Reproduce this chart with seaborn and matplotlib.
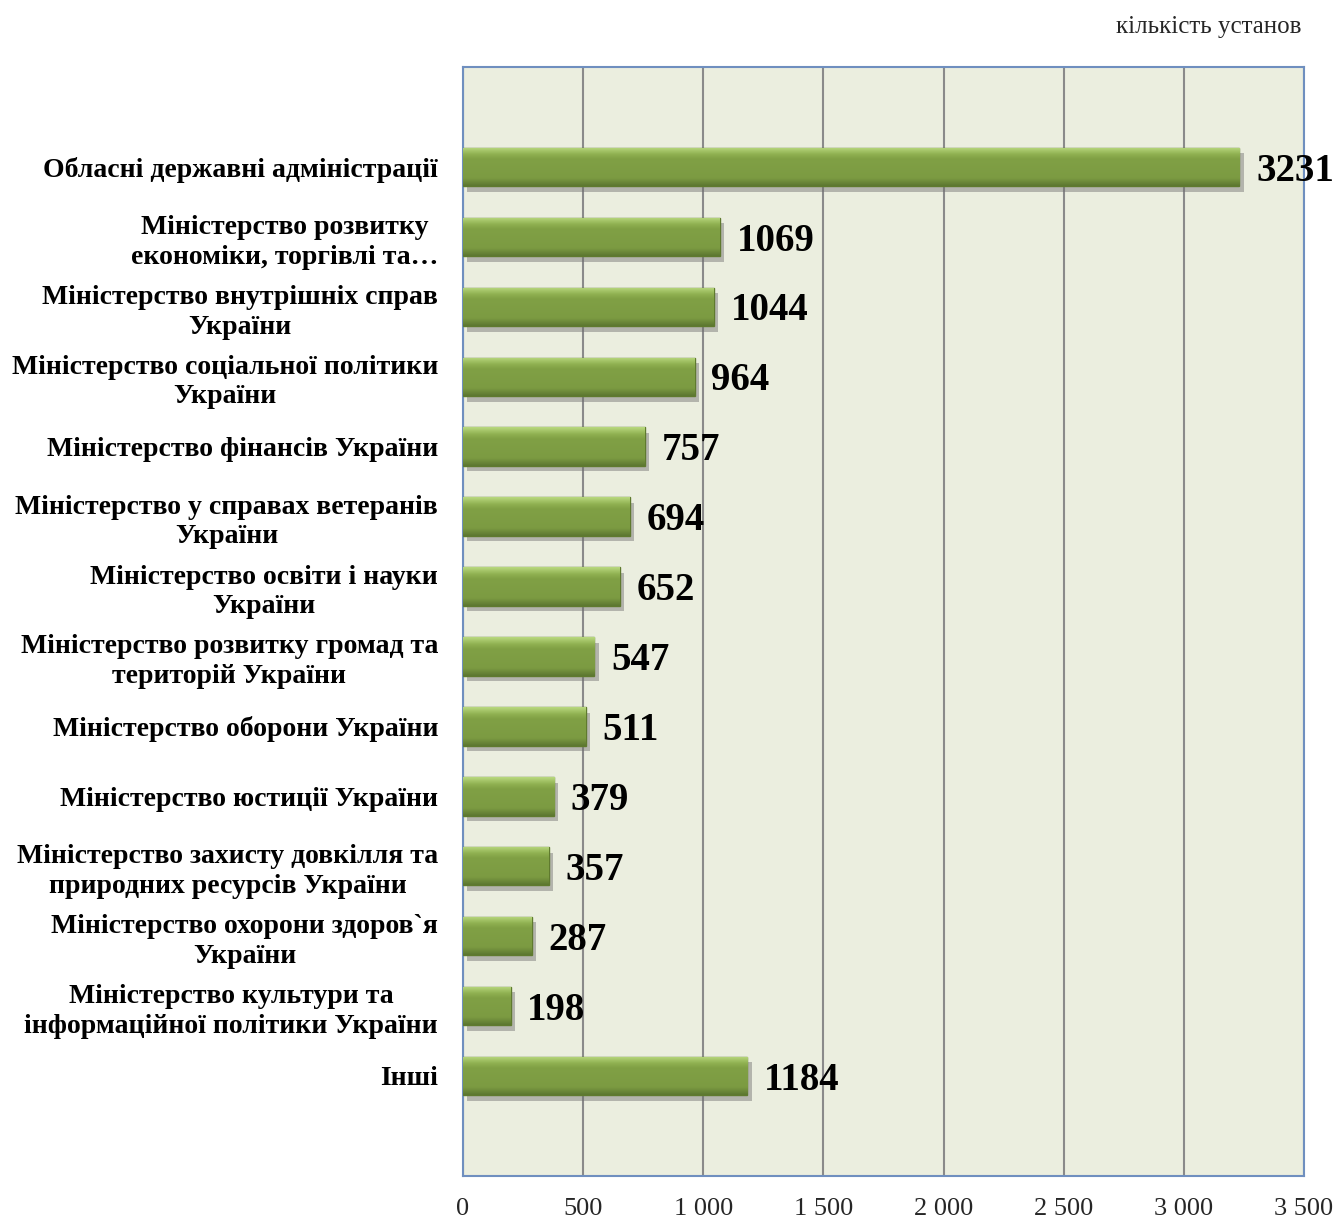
import numpy as np
import pandas as pd
import matplotlib.pyplot as plt
import matplotlib.patheffects as pe
from matplotlib.colors import LinearSegmentedColormap
import seaborn as sns

# Data
categories = [
    'Обласні державні адміністрації',
    'Міністерство розвитку\nекономіки, торгівлі та…',
    'Міністерство внутрішніх справ\nУкраїни',
    'Міністерство соціальної політики\nУкраїни',
    'Міністерство фінансів України',
    'Міністерство у справах ветеранів\nУкраїни',
    'Міністерство освіти і науки\nУкраїни',
    'Міністерство розвитку громад та\nтериторій України',
    'Міністерство оборони України',
    'Міністерство юстиції України',
    'Міністерство захисту довкілля та\nприродних ресурсів України',
    'Міністерство охорони здоров`я\nУкраїни',
    'Міністерство культури та\nінформаційної політики України',
    'Інші',
]
values = [3231, 1069, 1044, 964, 757, 694, 652, 547, 511, 379, 357, 287, 198, 1184]
x_ticks = [0, 500, 1000, 1500, 2000, 2500, 3000, 3500]
x_tick_labels = ['0', '500', '1 000', '1 500', '2 000', '2 500', '3 000', '3 500']

df = pd.DataFrame({'category': categories, 'value': values})

sns.set_theme(style="white")
serif = ['Liberation Serif', 'DejaVu Serif']
plt.rcParams['font.family'] = serif

fig = plt.figure(figsize=(13.37, 12.2), dpi=100)
ax = fig.add_axes([0.3463, 0.0361, 0.629, 0.909])
ax.set_facecolor('#ebeedf')

sns.barplot(data=df, x='value', y='category', orient='h', color='#7f9e44',
            width=0.55, saturation=1, ax=ax, zorder=3)

# bevel-like vertical gradient on each bar
bevel = LinearSegmentedColormap.from_list(
    'bevel', [(0, '#b9d87f'), (0.18, '#8fb050'), (0.3, '#80a045'),
              (0.8, '#7c9b42'), (1, '#5c7730')])
grad = np.linspace(0, 1, 64).reshape(-1, 1)
for bar in ax.patches:
    bar.set_edgecolor('#5f7a2e')
    bar.set_linewidth(1.0)
    bar.set_path_effects([pe.SimplePatchShadow(offset=(3, -4), shadow_rgbFace='#6f6f6f', alpha=0.45),
                          pe.Normal()])
    x0, y0 = bar.get_x(), bar.get_y()
    w, h = bar.get_width(), bar.get_height()
    im = ax.imshow(grad, cmap=bevel, aspect='auto', extent=(x0, x0 + w, y0 + h, y0),
                   origin='upper', zorder=3.5, interpolation='bicubic')
    im.set_clip_path(bar)

# value labels
for bar, v in zip(ax.patches, values):
    ax.annotate(str(v), (bar.get_width(), bar.get_y() + bar.get_height() / 2),
                xytext=(12, -3), textcoords='offset points', ha='left', va='center',
                fontsize=28, fontweight='bold', color='black', family=serif, zorder=5)

ax.set_xlim(0, 3500)
ax.set_ylim(13 + 1.43, -1.43)
ax.set_xticks(x_ticks)
ax.set_xticklabels(x_tick_labels, fontsize=19, family=serif)
ax.set_yticks(range(len(categories)))
ax.set_yticklabels(categories, fontsize=20, fontweight='bold', family=serif,
                   multialignment='center', color='black', linespacing=1.25)
ax.xaxis.grid(True, color='#8a8a8a', linewidth=1.5, zorder=0)
ax.set_axisbelow(True)
ax.tick_params(axis='x', length=0, pad=16)
ax.tick_params(axis='y', length=0, pad=18)

for s in ax.spines.values():
    s.set_visible(True)
    s.set_color('#6f8fbf')
    s.set_linewidth(1.5)

ax.set_xlabel('')
ax.set_ylabel('')

fig.text(0.973, 0.978, 'кількість установ', ha='right', va='center', fontsize=18, family=serif)

fig.savefig('out.png', dpi=100)
plt.close(fig)
